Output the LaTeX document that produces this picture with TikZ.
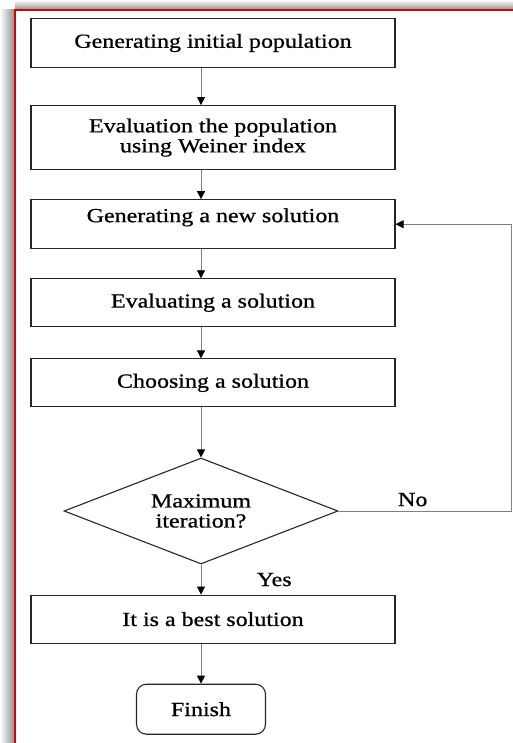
\documentclass[tikz,border=0pt]{standalone}
\usepackage{fontspec}
\setmainfont[FakeStretch=1.2, FakeBold=0.8]{Liberation Serif}
\usepackage{tikz}
\usetikzlibrary{shapes.geometric, arrows.meta, positioning, calc}

\begin{document}
\begin{tikzpicture}[
    x=1pt, y=1pt,
    node distance=30pt,
    every node/.style={font=\fontsize{20}{20}\selectfont},
    box/.style={rectangle, draw=black!85, line width=1.1pt, minimum width=364pt, minimum height=49pt, align=center, inner sep=0pt},
    decision/.style={diamond, draw=black!85, line width=1.1pt, minimum width=274pt, minimum height=106pt, aspect=2.6, align=center, inner sep=0pt},
    terminal/.style={rectangle, rounded corners=10pt, draw=black!85, line width=1.1pt, minimum width=129pt, minimum height=50pt},
    arrow/.style={draw=black!50, line width=0.8pt, -{Triangle[width=8pt, length=8pt, black]}},
]
\useasboundingbox (0,0) rectangle (513,-743);

% Shadow and frame
\shade[left color=white, right color=black!45] (0,-10) rectangle (15,-743);
\shade[top color=white, bottom color=black!45] (15,0) rectangle (513,-10);
\draw[red!85!black, line width=1.5pt] (15,-10) rectangle (525,-745);

% Flow axis
\coordinate (axis) at (201,0);
\coordinate (loop) at (511,0);

% Steps
\node[box] (init) at (213,-43) {Generating initial population};
\node[box, minimum height=64pt, below=37pt of init] (eval) {Evaluation the population\\using Weiner index};
\node[box, text depth=18pt, below=29pt of eval] (newsol) {Generating a new solution};
\node[box, minimum height=48pt, below=29pt of newsol] (evalsol) {Evaluating a solution};
\node[box, minimum height=48pt, below=31pt of evalsol] (choose) {Choosing a solution};
\node[decision, anchor=north] (maxit) at ($(choose.south -| axis)+(0,-50)$) {Maximum\\iteration?};
\node[box, minimum height=48pt, anchor=north] (best) at ($(maxit.south -| init)+(0,-30)$) {It is a best solution};
\node[terminal, anchor=north] (finish) at ($(best.south -| axis)+(0,-40)$) {Finish};

% Arrows
\draw[arrow] (init.south -| axis) -- (eval.north -| axis);
\draw[arrow] (eval.south -| axis) -- (newsol.north -| axis);
\draw[arrow] (newsol.south -| axis) -- (evalsol.north -| axis);
\draw[arrow] (evalsol.south -| axis) -- (choose.north -| axis);
\draw[arrow] (choose.south -| axis) -- (maxit.north);
\draw[arrow] (maxit.south) -- node[right, xshift=52pt] {Yes} (best.north -| axis);
\draw[arrow] (best.south -| axis) -- (finish.north);
\draw[arrow] (maxit.east) -- node[pos=0.43, above=1pt] {No} (maxit.east -| loop) |- (newsol.east);

\end{tikzpicture}
\end{document}
